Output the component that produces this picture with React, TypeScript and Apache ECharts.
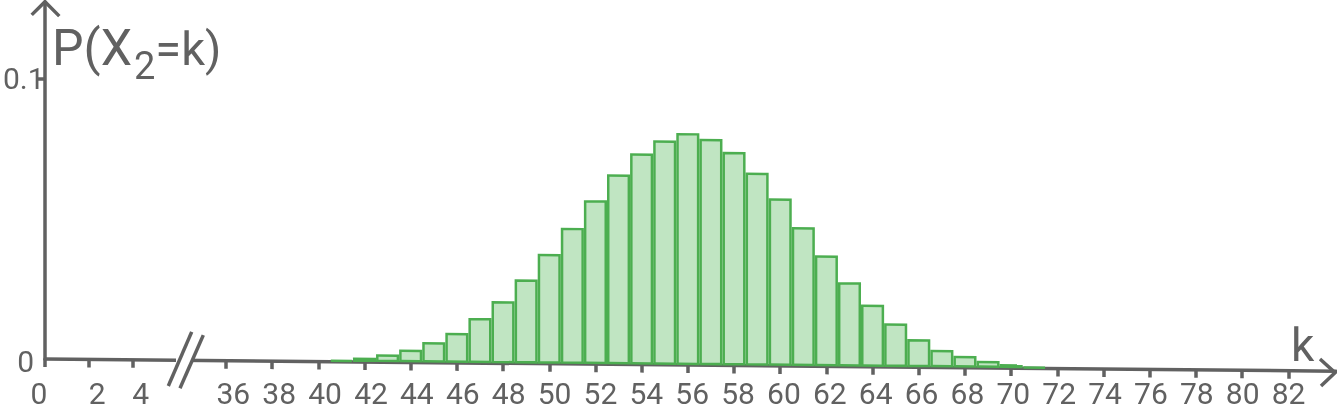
import React, { useEffect, useRef } from "react";
import * as echarts from "echarts";

// k values (number of successes) and read-off probabilities P(X2 = k)
const kValues = [41, 42, 43, 44, 45, 46, 47, 48, 49, 50, 51, 52, 53, 54, 55, 56, 57, 58, 59, 60, 61, 62, 63, 64, 65, 66, 67, 68, 69, 70, 71];
const probabilities = [
  0.0007, 0.0016, 0.0028, 0.0046, 0.0073, 0.0107, 0.0161, 0.0222, 0.03, 0.0392, 0.0486,
  0.0585, 0.0678, 0.0754, 0.0801, 0.0828, 0.0808, 0.0762, 0.0689, 0.0598, 0.0496, 0.0396,
  0.0301, 0.0222, 0.0156, 0.01, 0.0063, 0.0042, 0.0025, 0.0014, 0.0005,
];
// x tick labels (axis is broken between 4 and 36)
const xTickLeft = [0, 2, 4];
const xTickRight = [36, 38, 40, 42, 44, 46, 48, 50, 52, 54, 56, 58, 60, 62, 64, 66, 68, 70, 72, 74, 76, 78, 80, 82];
const yTickLabels = [0, 0.1];

const LEFT_SCALE = 0.95; // the segment before the break is drawn slightly compressed
const BREAK_SHIFT = 28.166; // removed span of the broken axis
const toAxis = (k: number) => (k < 20 ? k * LEFT_SCALE : k - BREAK_SHIFT);
const fromAxis = (v: number) => (v < 6 ? Math.round(v / LEFT_SCALE) : Math.round(v + BREAK_SHIFT));

const GRAY = "#616161";
const FONT = "Roboto, 'Noto Sans', sans-serif";
const LABEL_SIZE = 30;

const baseStyle: React.CSSProperties = { position: "fixed", left: 0, top: 0, width: 1337, height: 416 };

export default function App() {
  const lineRef = useRef<HTMLDivElement>(null);
  const textRef = useRef<HTMLDivElement>(null);
  useEffect(() => {
    if (!lineRef.current || !textRef.current) return;
    const xTicks = [...xTickLeft, ...xTickRight].map(toAxis);
    const grid = { left: 45, right: 1, top: 2, bottom: 57 };
    const X_MAX = 55.9;
    const Y_MAX = 0.1274;

    // Layer 1: axis lines, ticks and bars (drawn on a slightly tilted plane)
    const chartA = echarts.init(lineRef.current, null, { renderer: "svg" });
    chartA.setOption({
      animation: false,
      grid,
      xAxis: {
        type: "value",
        min: 0,
        max: X_MAX,
        splitLine: { show: false },
        axisLine: { show: true, lineStyle: { color: GRAY, width: 3.5 } },
        axisTick: { show: true, length: 8, lineStyle: { color: GRAY, width: 3.5 }, customValues: xTicks },
        axisLabel: { show: false },
      },
      yAxis: {
        type: "value",
        min: 0,
        max: Y_MAX,
        splitLine: { show: false },
        axisLine: { show: true, lineStyle: { color: GRAY, width: 3.5 } },
        axisTick: { show: true, length: 7, lineStyle: { color: GRAY, width: 3.5 }, customValues: [0.1] },
        axisLabel: { show: false },
      },
      series: [
        {
          type: "bar",
          barWidth: 23.1,
          data: kValues.map((k, i) => [toAxis(k), probabilities[i]]),
          itemStyle: { color: "#c0e5c2", borderColor: "#4cae50", borderWidth: 2.5 },
          z: 1,
        },
      ],
      graphic: [
        { type: "rect", z: 100, shape: { x: 176, y: 354, width: 17, height: 10 }, style: { fill: "#fff" } },
        { type: "line", z: 101, shape: { x1: 191.7, y1: 330.5, x2: 168.3, y2: 384.8 }, style: { stroke: GRAY, lineWidth: 3.5 } },
        { type: "line", z: 101, shape: { x1: 203.3, y1: 333.6, x2: 180, y2: 387 }, style: { stroke: GRAY, lineWidth: 3.5 } },
        { type: "polyline", z: 101, shape: { points: [[31.7, 15], [45, 1.7], [59.3, 16]] }, style: { stroke: GRAY, lineWidth: 3.5, fill: "none" } },
        { type: "polyline", z: 101, shape: { points: [[1320, 347], [1335, 360.5], [1321, 374]] }, style: { stroke: GRAY, lineWidth: 3.5, fill: "none" } },
      ],
    });

    // Layer 2: labels and titles (upright)
    const zeroText = (x: number, y: number, align: string) => ({
      type: "text",
      x,
      y,
      style: { text: "0", fontSize: LABEL_SIZE, fontFamily: FONT, fill: GRAY, align, verticalAlign: "middle" },
    });
    const chartB = echarts.init(textRef.current, null, { renderer: "svg" });
    chartB.setOption({
      animation: false,
      grid,
      xAxis: {
        type: "value",
        min: 0,
        max: X_MAX,
        splitLine: { show: false },
        axisLine: { show: false },
        axisTick: { show: false },
        axisLabel: {
          customValues: xTicks.filter((v) => v !== 0),
          margin: 22,
          lineHeight: 24,
          color: GRAY,
          fontSize: LABEL_SIZE,
          fontFamily: FONT,
          formatter: (v: number) => String(fromAxis(v)),
        },
      },
      yAxis: {
        type: "value",
        min: 0,
        max: Y_MAX,
        splitLine: { show: false },
        axisLine: { show: false },
        axisTick: { show: false },
        axisLabel: {
          customValues: yTickLabels.filter((v) => v !== 0),
          margin: 9,
          color: GRAY,
          fontSize: LABEL_SIZE,
          fontFamily: FONT,
          formatter: (v: number) => String(v),
        },
      },
      series: [],
      graphic: [
        zeroText(39, 393, "center"),
        zeroText(34, 361, "right"),
        {
          type: "text",
          x: 52,
          y: 48,
          style: {
            text: "{a|P(X}{s|2}{b|=k)}",
            fill: GRAY,
            fontFamily: FONT,
            align: "left",
            verticalAlign: "middle",
            rich: {
              a: { fontSize: 50, fontFamily: FONT, fill: GRAY },
              s: { fontSize: 38, fontFamily: FONT, fill: GRAY, padding: [35, 0, 0, 2] },
              b: { fontSize: 47, fontFamily: FONT, fill: GRAY },
            },
          },
        },
        {
          type: "text",
          x: 1291,
          y: 345,
          style: { text: "k", fontSize: 46, fontFamily: FONT, fill: GRAY, align: "left", verticalAlign: "middle" },
        },
      ],
    });
    return () => {
      chartA.dispose();
      chartB.dispose();
    };
  }, []);
  return (
    <>
      <div ref={lineRef} style={{ ...baseStyle, transform: "skewY(0.54deg)", transformOrigin: "45px 0px" }} />
      <div ref={textRef} style={baseStyle} />
    </>
  );
}
